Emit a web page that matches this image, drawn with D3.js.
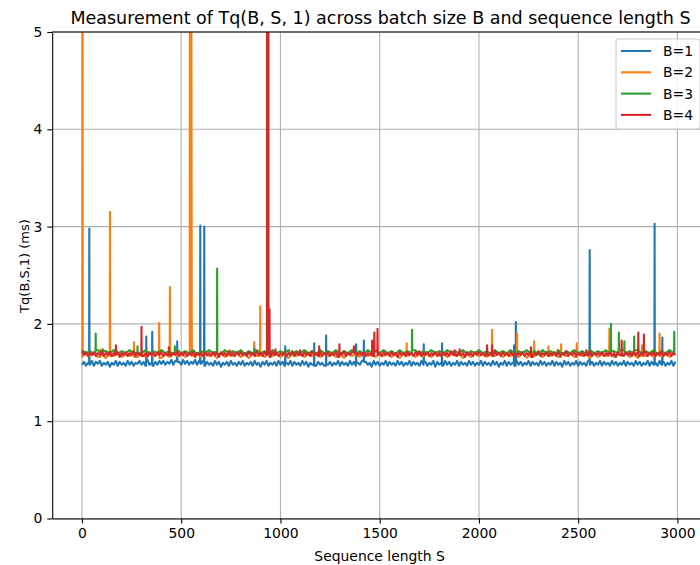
<!DOCTYPE html>
<html>
<head>
<meta charset="utf-8">
<script src="https://cdn.jsdelivr.net/npm/d3@7"></script>
<style>
  body { margin: 0; background: white; }
  text { font-family: "DejaVu Sans", sans-serif; fill: black; }
  .title { font-size: 17.5px; }
  .tick text { font-size: 13.9px; }
  .label { font-size: 13.9px; }
  .ylabel { font-size: 13px; }
</style>
</head>
<body>
<div id="chart-container"></div>
<script>
// series names and colours (matplotlib tab10)
const seriesNames = ["B=1", "B=2", "B=3", "B=4"];
const seriesColors = ["#1f77b4", "#ff7f0e", "#2ca02c", "#d62728"];

const xTicks = [0, 500, 1000, 1500, 2000, 2500, 3000];
const yTicks = [0, 1, 2, 3, 4, 5];

// baseline samples (ms). blue and red every 10 S, orange/green every 20 S
const baseStepB1 = 10;
const baseB1 = [
  1.58,1.61,1.57,1.60,1.58,1.62,1.57,1.61,1.59,1.62,1.57,1.60,1.58,1.61,1.56,1.60,1.58,1.62,1.57,1.61,
  1.58,1.60,1.57,1.62,1.58,1.61,1.57,1.60,1.59,1.62,1.58,1.61,1.57,1.63,1.58,1.60,1.57,1.61,1.58,1.62,
  1.59,1.62,1.58,1.61,1.59,1.63,1.58,1.62,1.59,1.61,1.58,1.63,1.59,1.62,1.58,1.61,1.59,1.63,1.58,1.62,
  1.59,1.62,1.57,1.61,1.58,1.60,1.57,1.62,1.58,1.61,1.56,1.60,1.58,1.61,1.57,1.62,1.58,1.60,1.57,1.61,
  1.58,1.62,1.57,1.60,1.58,1.61,1.57,1.62,1.58,1.60,1.56,1.61,1.58,1.62,1.57,1.60,1.58,1.61,1.57,1.62,
  1.58,1.61,1.57,1.60,1.58,1.62,1.57,1.61,1.58,1.60,1.57,1.62,1.58,1.61,1.56,1.60,1.58,1.62,1.57,1.61,
  1.58,1.60,1.57,1.62,1.58,1.61,1.57,1.60,1.58,1.62,1.57,1.61,1.58,1.60,1.57,1.62,1.58,1.61,1.57,1.60,
  1.58,1.62,1.57,1.61,1.58,1.60,1.56,1.62,1.58,1.61,1.57,1.60,1.58,1.62,1.57,1.61,1.58,1.60,1.57,1.62,
  1.58,1.61,1.57,1.60,1.58,1.62,1.57,1.61,1.58,1.60,1.57,1.62,1.58,1.61,1.57,1.60,1.58,1.62,1.56,1.61,
  1.58,1.60,1.57,1.62,1.58,1.61,1.57,1.60,1.58,1.62,1.57,1.61,1.58,1.60,1.57,1.62,1.58,1.61,1.57,1.60,
  1.58,1.62,1.57,1.61,1.58,1.60,1.57,1.62,1.58,1.61,1.56,1.60,1.58,1.62,1.57,1.61,1.58,1.60,1.57,1.62,
  1.58,1.61,1.57,1.60,1.58,1.62,1.57,1.61,1.58,1.60,1.57,1.62,1.58,1.61,1.57,1.60,1.58,1.62,1.57,1.61,
  1.58,1.60,1.56,1.62,1.58,1.61,1.57,1.60,1.58,1.62,1.57,1.61,1.58,1.60,1.57,1.62,1.58,1.61,1.57,1.60,
  1.58,1.62,1.57,1.61,1.58,1.60,1.57,1.62,1.58,1.61,1.57,1.60,1.58,1.62,1.57,1.61,1.58,1.60,1.57,1.62,
  1.58,1.61,1.57,1.60,1.58,1.62,1.57,1.61,1.58,1.60,1.57,1.62,1.58,1.61,1.57,1.60,1.58,1.62,1.57,1.61
];
const baseStepB2 = 20;
const baseB2 = [
  1.66,1.69,1.67,1.70,1.66,1.69,1.65,1.69,1.67,1.70,1.66,1.69,1.67,1.69,1.66,
  1.69,1.66,1.70,1.67,1.69,1.65,1.69,1.66,1.70,1.67,1.69,1.66,1.69,1.67,1.70,
  1.66,1.69,1.67,1.69,1.65,1.70,1.66,1.69,1.67,1.70,1.66,1.69,1.65,1.69,1.67,
  1.70,1.66,1.69,1.67,1.70,1.66,1.69,1.65,1.69,1.67,1.70,1.66,1.69,1.67,1.69,
  1.66,1.70,1.67,1.69,1.66,1.69,1.65,1.70,1.67,1.69,1.66,1.70,1.67,1.69,1.66,
  1.69,1.67,1.70,1.66,1.69,1.65,1.69,1.67,1.70,1.66,1.69,1.67,1.69,1.66,1.70,
  1.67,1.69,1.66,1.70,1.67,1.69,1.65,1.69,1.66,1.70,1.67,1.69,1.66,1.69,1.67,
  1.70,1.66,1.69,1.67,1.69,1.66,1.70,1.65,1.69,1.67,1.70,1.66,1.69,1.67,1.69,
  1.66,1.69,1.67,1.70,1.66,1.69,1.67,1.69,1.65,1.70,1.66,1.69,1.67,1.70,1.66,
  1.69,1.67,1.70,1.66,1.69,1.65,1.69,1.67,1.70,1.66,1.69,1.67,1.69,1.66,1.70
];
const baseStepB3 = 20;
const baseB3 = [
  1.73,1.70,1.72,1.69,1.73,1.70,1.72,1.70,1.73,1.69,1.72,1.70,1.73,1.70,1.72,
  1.70,1.73,1.69,1.72,1.70,1.73,1.70,1.72,1.69,1.73,1.70,1.72,1.70,1.73,1.69,
  1.72,1.70,1.73,1.70,1.72,1.69,1.73,1.70,1.72,1.70,1.73,1.69,1.72,1.70,1.73,
  1.70,1.72,1.69,1.73,1.70,1.72,1.70,1.73,1.69,1.72,1.70,1.73,1.70,1.72,1.69,
  1.73,1.70,1.72,1.70,1.73,1.69,1.72,1.70,1.73,1.70,1.72,1.69,1.73,1.70,1.72,
  1.70,1.73,1.70,1.72,1.69,1.73,1.70,1.72,1.70,1.73,1.69,1.72,1.70,1.73,1.70,
  1.72,1.69,1.73,1.70,1.72,1.70,1.73,1.69,1.72,1.70,1.73,1.70,1.72,1.69,1.73,
  1.70,1.72,1.70,1.73,1.69,1.72,1.70,1.73,1.70,1.72,1.69,1.73,1.70,1.72,1.70,
  1.73,1.69,1.72,1.70,1.73,1.70,1.72,1.69,1.73,1.70,1.72,1.70,1.73,1.69,1.72,
  1.70,1.73,1.70,1.72,1.69,1.73,1.70,1.72,1.70,1.73,1.69,1.72,1.70,1.73,1.70
];
const baseStepB4 = 10;
const baseB4 = [
  1.72,1.68,1.71,1.67,1.70,1.68,1.71,1.67,1.70,1.68,1.72,1.67,1.70,1.68,1.71,1.67,1.70,1.68,1.71,1.66,
  1.70,1.68,1.71,1.67,1.70,1.68,1.72,1.67,1.70,1.68,1.71,1.67,1.70,1.66,1.71,1.68,1.70,1.67,1.71,1.68,
  1.71,1.67,1.70,1.68,1.71,1.67,1.70,1.68,1.72,1.67,1.70,1.68,1.71,1.67,1.70,1.68,1.71,1.66,1.70,1.68,
  1.70,1.67,1.71,1.68,1.70,1.67,1.71,1.68,1.70,1.66,1.71,1.68,1.70,1.67,1.72,1.68,1.70,1.67,1.71,1.68,
  1.71,1.68,1.70,1.67,1.71,1.68,1.70,1.67,1.72,1.68,1.70,1.67,1.71,1.68,1.70,1.66,1.71,1.68,1.70,1.67,
  1.70,1.68,1.71,1.67,1.70,1.68,1.72,1.67,1.71,1.68,1.70,1.67,1.71,1.68,1.70,1.67,1.72,1.68,1.70,1.67,
  1.71,1.67,1.70,1.68,1.71,1.67,1.70,1.68,1.71,1.66,1.70,1.68,1.72,1.67,1.70,1.68,1.71,1.67,1.70,1.68,
  1.70,1.68,1.71,1.67,1.70,1.68,1.71,1.67,1.72,1.68,1.70,1.67,1.71,1.68,1.70,1.67,1.71,1.68,1.70,1.66,
  1.71,1.68,1.70,1.67,1.71,1.68,1.70,1.67,1.71,1.68,1.72,1.67,1.70,1.68,1.71,1.67,1.70,1.68,1.71,1.67,
  1.70,1.67,1.71,1.68,1.70,1.67,1.72,1.68,1.70,1.67,1.71,1.68,1.70,1.66,1.71,1.68,1.70,1.67,1.71,1.68,
  1.71,1.68,1.70,1.67,1.71,1.68,1.70,1.67,1.72,1.68,1.70,1.67,1.71,1.68,1.70,1.67,1.71,1.68,1.70,1.67,
  1.70,1.68,1.71,1.67,1.70,1.68,1.71,1.66,1.70,1.68,1.72,1.67,1.70,1.68,1.71,1.67,1.70,1.68,1.71,1.67,
  1.71,1.67,1.70,1.68,1.72,1.67,1.70,1.68,1.71,1.67,1.70,1.68,1.71,1.67,1.70,1.68,1.72,1.67,1.70,1.68,
  1.70,1.68,1.71,1.67,1.70,1.68,1.71,1.67,1.70,1.66,1.71,1.68,1.70,1.67,1.71,1.68,1.70,1.67,1.72,1.68,
  1.71,1.67,1.70,1.68,1.71,1.67,1.70,1.68,1.71,1.67,1.70,1.68,1.72,1.67,1.70,1.68,1.71,1.67,1.70,1.68
];

// spikes [S, ms] (values over 5 run off the top)
const spikesB1 = [[37,2.98],[324,1.87],[354,1.92],[480,1.82],[596,3.01],[616,3.00],[1024,1.77],[1170,1.80],
  [1230,1.88],[1381,1.79],[1420,1.83],[1722,1.79],[1814,1.80],[2177,1.78],[2186,2.02],[2558,2.76],[2885,3.03],[2924,1.86]];
const spikesB2 = [[3,9.0],[94,1.74],[141,3.15],[262,1.81],[389,2.01],[443,2.38],[544,9.0],[549,9.0],[553,2.11],
  [745,1.73],[868,1.81],[898,2.18],[1636,1.80],[2066,1.94],[2192,1.90],[2278,1.82],[2350,1.77],[2414,1.79],
  [2493,1.80],[2657,1.95],[2822,1.78],[2910,1.90]];
const spikesB3 = [[69,1.90],[105,1.74],[280,1.77],[468,1.77],[681,2.57],[868,1.75],[1045,1.72],[1663,1.94],
  [2396,1.73],[2665,2.00],[2705,1.91],[2733,1.82],[2782,1.87],[2984,1.92]];
const spikesB4 = [[171,1.78],[300,1.97],[438,1.76],[933,9.0],[939,9.0],[945,2.15],[975,1.74],[1098,1.73],
  [1195,1.77],[1297,1.79],[1370,1.77],[1462,1.83],[1473,1.91],[1489,1.95],[1877,1.73],[1903,1.74],[2041,1.78],
  [2066,1.78],[2262,1.76],[2541,1.73],[2719,1.83],[2803,1.91],[2831,1.89]];

// put baseline samples and spikes together in S order.
// each spike (or tight group of spikes) gets the neighbouring baseline value
// one S step either side so it rises straight up instead of as a wide triangle
function buildSeries(base, step, spikes) {
    const out = base.map((v, i) => [i * step, v]);
    const used = new Set(spikes.map(d => d[0]));
    let i = 0;
    while (i < spikes.length) {
        let j = i;
        while (j + 1 < spikes.length && spikes[j + 1][0] - spikes[j][0] <= 8) j++;
        const s0 = spikes[i][0], s1 = spikes[j][0];
        const left = base[Math.max(0, Math.floor((s0 - 1) / step))];
        const right = base[Math.min(base.length - 1, Math.ceil((s1 + 1) / step))];
        if (s0 > 0 && !used.has(s0 - 1)) out.push([s0 - 1, left]);
        if (!used.has(s1 + 1)) out.push([s1 + 1, right]);
        i = j + 1;
    }
    const merged = out.filter(p => !(used.has(p[0]) && p[0] % step === 0)).concat(spikes);
    merged.sort((a, b) => a[0] - b[0]);
    return merged;
}
const allSeries = [
    buildSeries(baseB1, baseStepB1, spikesB1),
    buildSeries(baseB2, baseStepB2, spikesB2),
    buildSeries(baseB3, baseStepB3, spikesB3),
    buildSeries(baseB4, baseStepB4, spikesB4)
];

// svg setup, plot area runs past the right edge like the original figure
const svgWidth = 700;
const svgHeight = 565;
const margin = { top: 32, left: 52.2 };
const width = 654.8;
const height = 486.5;

const root = d3.select("#chart-container")
    .append("svg")
    .attr("width", svgWidth)
    .attr("height", svgHeight);

const svg = root.append("g")
    .attr("transform", `translate(${margin.left},${margin.top})`);

const x = d3.scaleLinear().domain([-150, 3149]).range([0, width]);
const y = d3.scaleLinear().domain([0, 5]).range([height, 0]);

svg.append("clipPath").attr("id", "clip")
    .append("rect").attr("width", width).attr("height", height);

// grid first, under the lines
svg.append("g").selectAll("line").data(xTicks).join("line")
    .attr("x1", d => x(d)).attr("x2", d => x(d))
    .attr("y1", 0).attr("y2", height)
    .attr("stroke", "#b0b0b0").attr("stroke-width", 1.1);
svg.append("g").selectAll("line").data(yTicks).join("line")
    .attr("x1", 0).attr("x2", width)
    .attr("y1", d => y(d)).attr("y2", d => y(d))
    .attr("stroke", "#b0b0b0").attr("stroke-width", 1.1);

const line = d3.line().x(d => x(d[0])).y(d => y(d[1]));

svg.append("g").attr("clip-path", "url(#clip)")
    .selectAll("path").data(allSeries).join("path")
    .attr("d", line)
    .attr("fill", "none")
    .attr("stroke", (d, i) => seriesColors[i])
    .attr("stroke-width", 2.08)
    .attr("stroke-linejoin", "round");

// axes
const xAxis = svg.append("g").attr("transform", `translate(0,${height})`)
    .call(d3.axisBottom(x).tickValues(xTicks).tickFormat(d3.format("d"))
        .tickSize(4.9).tickPadding(4.9).tickSizeOuter(0));
const yAxis = svg.append("g")
    .call(d3.axisLeft(y).tickValues(yTicks).tickFormat(d3.format("d"))
        .tickSize(4.9).tickPadding(4.9).tickSizeOuter(0));
[xAxis, yAxis].forEach(a => {
    a.attr("font-family", null).attr("font-size", null);
    a.selectAll("line").attr("stroke-width", 1.1);
    a.select(".domain").attr("stroke-width", 1.1);
});
// top spine
svg.append("line").attr("x1", 0).attr("x2", width).attr("y1", 0).attr("y2", 0)
    .attr("stroke", "black").attr("stroke-width", 1.1);

// labels
root.append("text").attr("class", "title")
    .attr("x", 380.5).attr("y", 23.5)
    .attr("text-anchor", "middle")
    .text("Measurement of Tq(B, S, 1) across batch size B and sequence length S");
root.append("text").attr("class", "label")
    .attr("x", margin.left + width / 2).attr("y", 560.5)
    .attr("text-anchor", "middle")
    .text("Sequence length S");
root.append("text").attr("class", "ylabel")
    .attr("transform", "translate(29,266) rotate(-90)")
    .attr("text-anchor", "middle")
    .text("Tq(B,S,1) (ms)");

// legend box, upper right
const legend = root.append("g").attr("transform", "translate(616,39)");
legend.append("rect")
    .attr("width", 84).attr("height", 90).attr("rx", 2.8)
    .attr("fill", "white").attr("fill-opacity", 0.8)
    .attr("stroke", "#cccccc").attr("stroke-width", 1.1);
const entry = legend.selectAll("g.entry").data(seriesNames).join("g")
    .attr("class", "entry")
    .attr("transform", (d, i) => `translate(0,${12 + i * 21.3})`);
entry.append("line")
    .attr("x1", 5).attr("x2", 35)
    .attr("stroke", (d, i) => seriesColors[i]).attr("stroke-width", 2.08);
entry.append("text").attr("class", "label")
    .attr("x", 47).attr("dy", "0.36em")
    .text(d => d);
</script>
</body>
</html>
